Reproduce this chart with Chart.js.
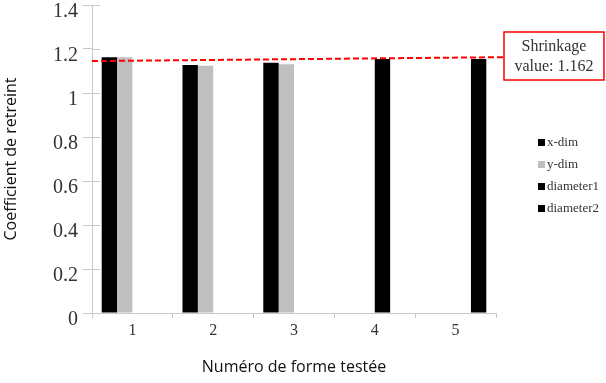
<!DOCTYPE html>
<html>
<head>
<meta charset="utf-8">
<script src="https://cdn.jsdelivr.net/npm/chart.js@4"></script>
<style>
  html, body { margin: 0; padding: 0; background: #fff; }
  #wrap { width: 606px; height: 383px; position: relative; }
</style>
</head>
<body>
<div id="wrap"><canvas id="chart"></canvas></div>
<script>
var categories = ['1', '2', '3', '4', '5'];
var seriesNames = ['x-dim', 'y-dim', 'diameter1', 'diameter2'];
var xDim = [1.163, 1.127, 1.137, null, null];
var yDim = [1.163, 1.124, 1.131, null, null];
var diameter1 = [null, null, null, 1.154, null];
var diameter2 = [null, null, null, null, 1.154];
var seriesColors = ['#000000', '#bfbfbf', '#000000', '#000000'];
// red dashed shrinkage line, value at left end and right end
var shrinkLine = [1.145, 1.163];
var shrinkText = ['Shrinkage', 'value: 1.162'];

var serif = '"Liberation Serif", "DejaVu Serif", serif';
var sans = '"Open Sans", "Noto Sans", sans-serif';

var extras = {
	id: 'extras',
	afterDatasetsDraw: function(chart) {
		var c = chart.ctx;
		var area = chart.chartArea;
		var y = chart.scales.y;

		// inner half of the y ticks
		c.save();
		c.strokeStyle = '#c8c8c8';
		c.lineWidth = 1;
		y.ticks.forEach(function(t) {
			var py = Math.round(y.getPixelForValue(t.value)) + 0.5;
			c.beginPath();
			c.moveTo(area.left, py);
			c.lineTo(area.left + 8, py);
			c.stroke();
		});
		c.restore();

		// shrinkage box
		var bx = 504, by = 32, bw = 100, bh = 48;
		c.save();
		c.strokeStyle = '#ff0000';
		c.lineWidth = 2;
		c.setLineDash([6, 3]);
		c.beginPath();
		c.moveTo(area.left, y.getPixelForValue(shrinkLine[0]));
		c.lineTo(bx, y.getPixelForValue(shrinkLine[1]));
		c.stroke();
		c.setLineDash([]);
		c.lineWidth = 1.5;
		c.fillStyle = '#fff';
		c.fillRect(bx, by, bw, bh);
		c.strokeRect(bx, by, bw, bh);
		c.fillStyle = '#333';
		c.font = '16px ' + serif;
		c.textAlign = 'center';
		c.textBaseline = 'middle';
		c.fillText(shrinkText[0], bx + bw / 2, by + 15);
		c.fillText(shrinkText[1], bx + bw / 2, by + 35);

		// legend
		c.font = '13px ' + serif;
		c.textAlign = 'left';
		for (var i = 0; i < seriesNames.length; i++) {
			var ly = 143 + i * 22;
			c.fillStyle = seriesColors[i];
			c.fillRect(538, ly - 4, 7, 7);
			c.fillStyle = '#333';
			c.fillText(seriesNames[i], 547, ly);
		}
		c.restore();
	}
};

var allData = [xDim, yDim, diameter1, diameter2];
var datasets = [];
for (var i = 0; i < seriesNames.length; i++) {
	datasets.push({
		label: seriesNames[i],
		data: allData[i],
		backgroundColor: seriesColors[i],
		borderWidth: 0,
		categoryPercentage: 0.76,
		barPercentage: 1
	});
}

new Chart(document.getElementById('chart'), {
	type: 'bar',
	data: { labels: categories, datasets: datasets },
	plugins: [extras],
	options: {
		responsive: true,
		maintainAspectRatio: false,
		animation: false,
		layout: { padding: { left: 0, top: 5, right: 110, bottom: 0 } },
		plugins: {
			legend: { display: false },
			tooltip: { enabled: false }
		},
		scales: {
			x: {
				afterFit: function(s) { s.height = 70; },
				border: { color: '#c8c8c8' },
				grid: { drawOnChartArea: false, tickLength: 5, color: '#c8c8c8' },
				ticks: { color: '#333', font: { family: serif, size: 16 }, padding: 3 },
				title: {
					display: true,
					text: 'Numéro de forme testée',
					color: '#111',
					font: { family: sans, size: 16 },
					padding: { top: 0, bottom: 6 }
				}
			},
			y: {
				min: 0,
				max: 1.4,
				afterFit: function(s) {
					s.width = 92;
					s.paddingTop = 0;
					s.paddingBottom = 0;
				},
				border: { color: '#c8c8c8' },
				grid: { drawOnChartArea: false, tickLength: 9, color: '#c8c8c8' },
				ticks: {
					stepSize: 0.2,
					color: '#333',
					font: { family: serif, size: 20 },
					padding: 5,
					labelOffset: 7,
					callback: function(v) { return String(parseFloat(v.toFixed(1))); }
				},
				title: {
					display: true,
					text: 'Coefficient de retreint',
					color: '#111',
					font: { family: sans, size: 16 },
					padding: { top: 2, bottom: 0 }
				}
			}
		}
	}
});
</script>
</body>
</html>
